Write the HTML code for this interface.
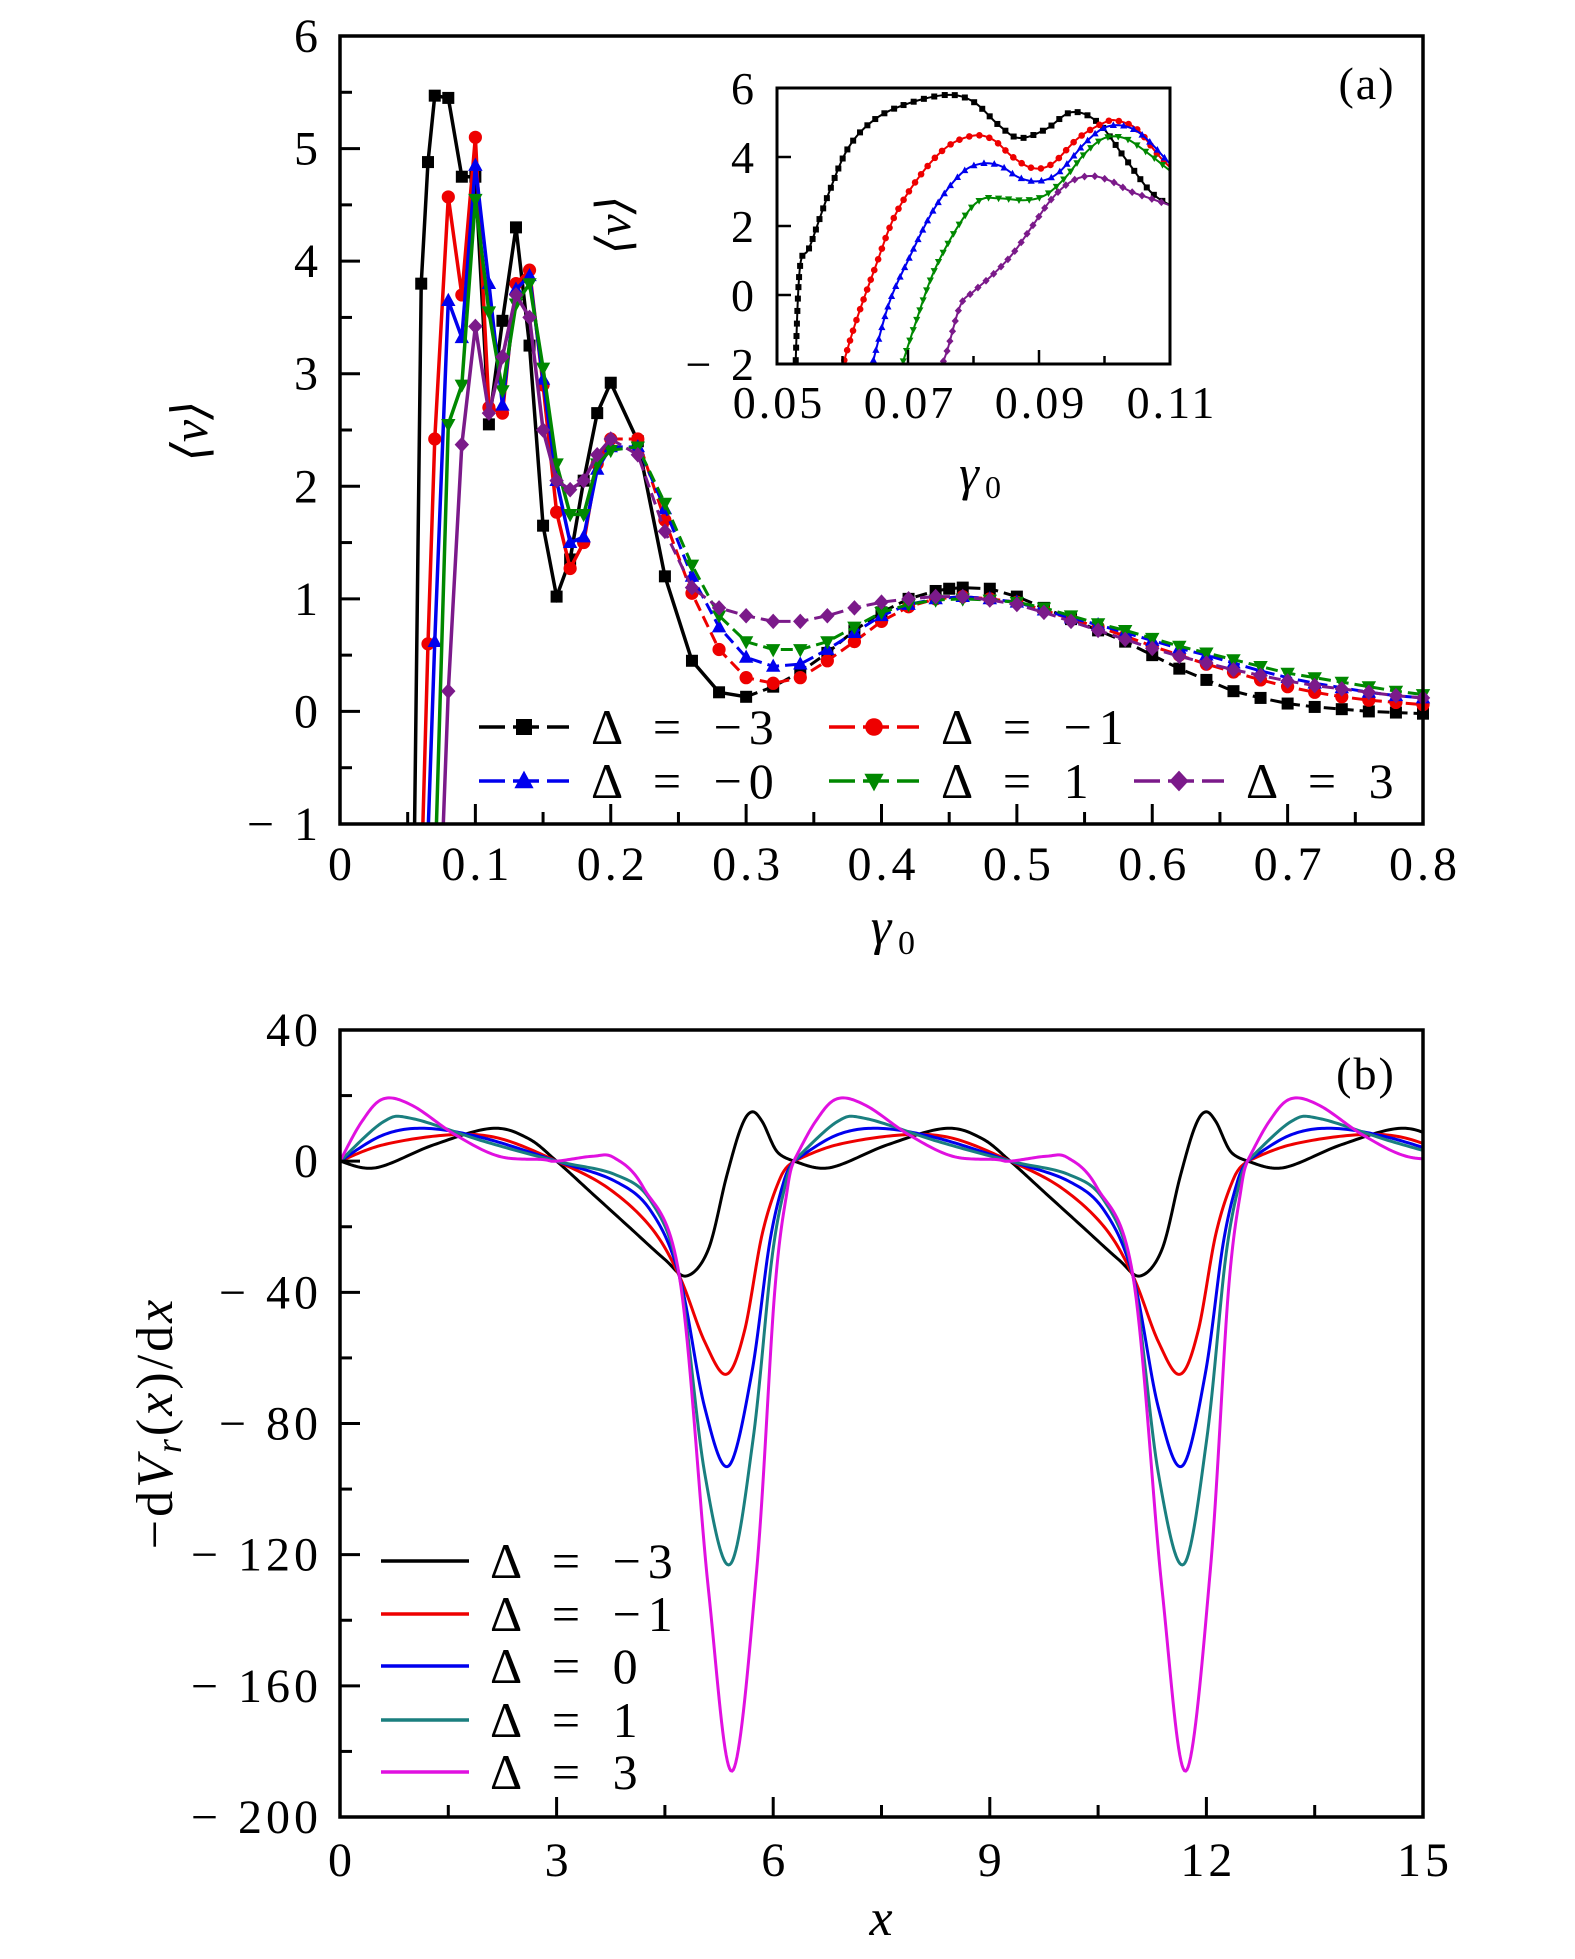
<!DOCTYPE html>
<html><head><meta charset="utf-8"><style>
html,body{margin:0;padding:0;background:#fff;}
svg{display:block;}
text{font-family:"Liberation Serif","DejaVu Serif",serif;fill:#000;}
</style></head><body>
<svg id="s" width="1575" height="1959" viewBox="0 0 1575 1959" xmlns="http://www.w3.org/2000/svg">
<rect width="1575" height="1959" fill="#fff"/>
<g id="g"></g>
</svg>
<script>
const NS="http://www.w3.org/2000/svg";
const G=document.getElementById('g');
function el(t,a,txt){const e=document.createElementNS(NS,t);for(const k in a)e.setAttribute(k,a[k]);if(txt!==undefined)e.textContent=txt;G.appendChild(e);return e;}
function txt(x,y,s,size,anchor,extra){const a={x:x,y:y,'font-size':size,'text-anchor':anchor||'middle'};if(extra)Object.assign(a,extra);return el('text',a,s);}
function clip(id,x,y,w,h){const c=el('clipPath',{id:id});const r=document.createElementNS(NS,'rect');r.setAttribute('x',x);r.setAttribute('y',y);r.setAttribute('width',w);r.setAttribute('height',h);c.appendChild(r);}
function cr(pts,n){const out=[];for(let i=0;i<pts.length-1;i++){const p0=pts[Math.max(0,i-1)],p1=pts[i],p2=pts[i+1],p3=pts[Math.min(pts.length-1,i+2)];for(let k=0;k<n;k++){const t=k/n,t2=t*t,t3=t2*t;const f=(a,b,c,d)=>0.5*((2*b)+(-a+c)*t+(2*a-5*b+4*c-d)*t2+(-a+3*b-3*c+d)*t3);out.push([f(p0[0],p1[0],p2[0],p3[0]),f(p0[1],p1[1],p2[1],p3[1])]);}}out.push(pts[pts.length-1]);return out;}
function marker(type,x,y,c,r){
 if(type==='sq')el('rect',{x:x-r,y:y-r,width:2*r,height:2*r,fill:c});
 else if(type==='ci')el('circle',{cx:x,cy:y,r:r*1.1,fill:c});
 else if(type==='up')el('polygon',{points:`${x},${y-r*1.3} ${x-r*1.2},${y+r*0.9} ${x+r*1.2},${y+r*0.9}`,fill:c});
 else if(type==='dn')el('polygon',{points:`${x},${y+r*1.3} ${x-r*1.2},${y-r*0.9} ${x+r*1.2},${y-r*0.9}`,fill:c});
 else if(type==='di')el('polygon',{points:`${x},${y-r*1.3} ${x+r*1.2},${y} ${x},${y+r*1.3} ${x-r*1.2},${y}`,fill:c});
}
const TK={'letter-spacing':4};
// ---------- Panel a ----------
const aL=340,aR=1423,aT=36,aB=824;
const ax=v=>aL+(v/0.8)*(aR-aL), ay=v=>aB-(v+1)/7*(aB-aT);
const A={
k:{c:'#000',m:'sq',sw:0.3,d:[[0.055,-1.1],[0.06,3.8],[0.065,4.88],[0.07,5.47],[0.08,5.45],[0.09,4.75],[0.1,4.75],[0.11,2.55],[0.12,3.47],[0.13,4.3],[0.14,3.25],[0.15,1.65],[0.16,1.02],[0.17,1.35],[0.18,2.05],[0.19,2.65],[0.2,2.92],[0.22,2.4],[0.24,1.2],[0.26,0.45],[0.28,0.17],[0.3,0.13],[0.32,0.22],[0.34,0.35],[0.36,0.52],[0.38,0.72],[0.4,0.88],[0.42,1.0],[0.44,1.07],[0.45,1.09],[0.46,1.1],[0.48,1.09],[0.5,1.02],[0.52,0.92],[0.54,0.82],[0.56,0.72],[0.58,0.62],[0.6,0.5],[0.62,0.38],[0.64,0.28],[0.66,0.18],[0.68,0.12],[0.7,0.07],[0.72,0.04],[0.74,0.02],[0.76,0.0],[0.78,-0.01],[0.8,-0.02]]},
r:{c:'#e00',m:'ci',sw:0.2,d:[[0.061,-1.1],[0.065,0.6],[0.07,2.42],[0.08,4.57],[0.09,3.7],[0.1,5.1],[0.11,2.7],[0.12,2.65],[0.13,3.8],[0.14,3.92],[0.15,2.9],[0.16,1.77],[0.17,1.27],[0.18,1.5],[0.19,2.2],[0.2,2.42],[0.22,2.42],[0.24,1.7],[0.26,1.05],[0.28,0.55],[0.3,0.3],[0.32,0.25],[0.34,0.3],[0.36,0.45],[0.38,0.62],[0.4,0.8],[0.42,0.93],[0.44,1.0],[0.46,1.02],[0.48,1.0],[0.5,0.97],[0.52,0.9],[0.54,0.82],[0.56,0.75],[0.58,0.67],[0.6,0.58],[0.62,0.5],[0.64,0.42],[0.66,0.35],[0.68,0.28],[0.7,0.22],[0.72,0.17],[0.74,0.13],[0.76,0.1],[0.78,0.08],[0.8,0.06]]},
b:{c:'#00e',m:'up',sw:0.2,d:[[0.065,-1.1],[0.07,0.62],[0.08,3.65],[0.09,3.32],[0.1,4.85],[0.11,3.8],[0.12,2.72],[0.13,3.75],[0.14,3.87],[0.15,2.95],[0.16,2.05],[0.17,1.5],[0.18,1.55],[0.19,2.15],[0.2,2.35],[0.22,2.35],[0.24,1.8],[0.26,1.2],[0.28,0.75],[0.3,0.48],[0.32,0.4],[0.34,0.42],[0.36,0.55],[0.38,0.7],[0.4,0.85],[0.42,0.95],[0.44,1.0],[0.46,1.02],[0.48,1.0],[0.5,0.97],[0.52,0.9],[0.54,0.83],[0.56,0.77],[0.58,0.7],[0.6,0.63],[0.62,0.56],[0.64,0.5],[0.66,0.43],[0.68,0.36],[0.7,0.3],[0.72,0.25],[0.74,0.21],[0.76,0.17],[0.78,0.14],[0.8,0.12]]},
g:{c:'#080',m:'dn',sw:0.2,d:[[0.071,-1.1],[0.08,2.55],[0.09,2.9],[0.1,4.55],[0.11,3.55],[0.12,2.85],[0.13,3.62],[0.14,3.8],[0.15,3.05],[0.16,2.2],[0.17,1.75],[0.18,1.75],[0.19,2.2],[0.2,2.32],[0.22,2.35],[0.24,1.85],[0.26,1.3],[0.28,0.85],[0.3,0.62],[0.32,0.55],[0.34,0.55],[0.36,0.62],[0.38,0.75],[0.4,0.88],[0.42,0.95],[0.44,0.99],[0.46,1.0],[0.48,0.99],[0.5,0.97],[0.52,0.92],[0.54,0.85],[0.56,0.78],[0.58,0.72],[0.6,0.65],[0.62,0.58],[0.64,0.52],[0.66,0.46],[0.68,0.4],[0.7,0.34],[0.72,0.3],[0.74,0.26],[0.76,0.22],[0.78,0.18],[0.8,0.15]]},
p:{c:'#7b1a8a',m:'di',sw:0.2,d:[[0.076,-1.1],[0.08,0.18],[0.09,2.37],[0.1,3.42],[0.11,2.65],[0.12,3.15],[0.13,3.7],[0.14,3.5],[0.15,2.5],[0.16,2.05],[0.17,1.97],[0.18,2.05],[0.19,2.28],[0.2,2.42],[0.22,2.28],[0.24,1.6],[0.26,1.1],[0.28,0.92],[0.3,0.85],[0.32,0.8],[0.34,0.8],[0.36,0.85],[0.38,0.92],[0.4,0.97],[0.42,1.0],[0.44,1.02],[0.46,1.02],[0.48,0.99],[0.5,0.95],[0.52,0.88],[0.54,0.8],[0.56,0.72],[0.58,0.64],[0.6,0.56],[0.62,0.49],[0.64,0.43],[0.66,0.37],[0.68,0.32],[0.7,0.27],[0.72,0.23],[0.74,0.2],[0.76,0.17],[0.78,0.14],[0.8,0.12]]}
};
clip('ca',aL,aT,aR-aL,aB-aT);
for(const key of ['k','r','b','g','p']){const s=A[key];
 const solid=s.d.filter(p=>p[0]<=s.sw), dash=s.d.filter(p=>p[0]>=s.sw);
 el('polyline',{points:solid.map(p=>ax(p[0])+','+ay(p[1])).join(' '),fill:'none',stroke:s.c,'stroke-width':3.5,'clip-path':'url(#ca)'});
 el('polyline',{points:dash.map(p=>ax(p[0])+','+ay(p[1])).join(' '),fill:'none',stroke:s.c,'stroke-width':3,'stroke-dasharray':'12,6','clip-path':'url(#ca)'});
 for(const p of s.d){if(p[1]>-1)marker(s.m,ax(p[0]),ay(p[1]),s.c,6);}
}
el('rect',{x:aL,y:aT,width:aR-aL,height:aB-aT,fill:'none',stroke:'#000','stroke-width':3.5});
for(let i=0;i<=16;i++){const v=i*0.05,x=ax(v);el('line',{x1:x,y1:aB,x2:x,y2:aB-(i%2?12:20),stroke:'#000','stroke-width':3});}
for(let i=0;i<=14;i++){const v=-1+i*0.5,y=ay(v);el('line',{x1:aL,y1:y,x2:aL+(i%2?12:20),y2:y,stroke:'#000','stroke-width':3});}
['0','0.1','0.2','0.3','0.4','0.5','0.6','0.7','0.8'].forEach((s,i)=>txt(ax(i*0.1)+2,880,s,48,'middle',TK));
for(let i=-1;i<=6;i++)txt(322,ay(i)+16,i<0?'− 1':String(i),48,'end',TK);
txt(881,944,'γ',52,'middle',{'font-style':'italic'});txt(898,954,'0',34,'start');
txt(0,0,'⟨v⟩',50,'middle',{transform:'translate(207,431) rotate(-90)','font-style':'italic'});
txt(1367,99,'(a)',46,'middle',{'letter-spacing':2});
// inset
const iL=777,iR=1170,iT=88,iB=364;
const ix=v=>iL+(v-0.05)/0.06*(iR-iL), iy=v=>iB-(v+2)/8*(iB-iT);
el('rect',{x:iL,y:iT,width:iR-iL,height:iB-iT,fill:'#fff',stroke:'none'});
clip('ci',iL,iT,iR-iL,iB-iT);
const I=[
{c:'#000',m:'sq',d:[[0.0528,-2.2],[0.0535,0.8],[0.055,1.4],[0.058,3.0],[0.061,4.3],[0.065,5.1],[0.07,5.55],[0.076,5.8],[0.08,5.6],[0.084,4.9],[0.087,4.55],[0.091,4.8],[0.095,5.3],[0.099,5.0],[0.103,4.0],[0.107,3.0],[0.11,2.6]]},
{c:'#e00',m:'ci',d:[[0.0598,-2.2],[0.062,-0.8],[0.065,0.8],[0.068,2.3],[0.072,3.5],[0.076,4.3],[0.08,4.62],[0.083,4.5],[0.086,4.0],[0.089,3.68],[0.092,3.8],[0.096,4.55],[0.1,5.0],[0.102,5.05],[0.105,4.8],[0.108,4.1],[0.11,3.7]]},
{c:'#00e',m:'up',d:[[0.0643,-2.2],[0.067,-0.3],[0.07,1.0],[0.074,2.5],[0.078,3.5],[0.081,3.8],[0.084,3.75],[0.087,3.4],[0.09,3.3],[0.093,3.55],[0.097,4.4],[0.1,4.85],[0.103,4.9],[0.106,4.6],[0.11,3.8]]},
{c:'#080',m:'dn',d:[[0.0688,-2.2],[0.071,-0.9],[0.074,0.7],[0.078,2.1],[0.081,2.75],[0.084,2.8],[0.088,2.75],[0.091,2.9],[0.094,3.4],[0.097,4.1],[0.1,4.55],[0.103,4.55],[0.106,4.2],[0.11,3.6]]},
{c:'#7b1a8a',m:'di',d:[[0.0748,-2.2],[0.076,-1.6],[0.078,-0.3],[0.08,0.1],[0.083,0.6],[0.086,1.2],[0.089,2.0],[0.092,2.8],[0.095,3.3],[0.098,3.45],[0.101,3.3],[0.104,3.0],[0.107,2.8],[0.11,2.6]]}
];
for(const s of I){const pts=cr(s.d,8).map(p=>[ix(p[0]),iy(p[1])]);
 el('polyline',{points:pts.map(p=>p.join(',')).join(' '),fill:'none',stroke:s.c,'stroke-width':2,'clip-path':'url(#ci)'});
 const dense=cr(s.d,40);let acc=0,last=null;
 for(const p of dense){const q=[ix(p[0]),iy(p[1])];if(last){acc+=Math.hypot(q[0]-last[0],q[1]-last[1]);}last=q;if(acc>=10||acc===0){if(q[1]<iB&&q[1]>iT&&q[0]<iR)marker(s.m,q[0],q[1],s.c,3);acc=acc>=10?0.0001:acc;}}
}
el('rect',{x:iL,y:iT,width:iR-iL,height:iB-iT,fill:'none',stroke:'#000','stroke-width':3});
for(let i=0;i<=6;i++){const x=ix(0.05+i*0.01);el('line',{x1:x,y1:iB,x2:x,y2:iB-(i%2?8:14),stroke:'#000','stroke-width':2.5});}
for(let i=0;i<=4;i++){const y=iy(-2+i*2);el('line',{x1:iL,y1:y,x2:iL+14,y2:y,stroke:'#000','stroke-width':2.5});}
['0.05','0.07','0.09','0.11'].forEach((s,i)=>txt(ix(0.05+i*0.02)+2,418,s,46,'middle',{'letter-spacing':3}));
['− 2','0','2','4','6'].forEach((s,i)=>txt(758,iy(-2+i*2)+16,s,46,'end',TK));
txt(969,490,'γ',50,'middle',{'font-style':'italic'});txt(985,498,'0',32,'start');
txt(0,0,'⟨v⟩',48,'middle',{transform:'translate(630,225) rotate(-90)','font-style':'italic'});
// legend a
const LA=[[479,727,'k','Δ = −3'],[829,727,'r','Δ = −1'],[479,781,'b','Δ = −0'],[829,781,'g','Δ = 1'],[1134,781,'p','Δ = 3']];
for(const [x,y,k,s] of LA){const c=A[k].c;el('line',{x1:x,y1:y,x2:x+90,y2:y,stroke:c,'stroke-width':3.5,'stroke-dasharray':'26,8'});marker(A[k].m,x+45,y,c,8);txt(x+112,y+17,s,50,'start',{'letter-spacing':7,'word-spacing':6});}
// ---------- Panel b ----------
const bL=340,bR=1423,bT=1030,bB=1817;
const bx=v=>bL+v/15*(bR-bL), by=v=>bT+(40-v)/240*(bB-bT);
const P=2*Math.PI;
const B=[
{c:'#000',d:[[0,0],[0.5,-2],[1.3,5],[2.1,10],[2.6,7],[3.0,0],[3.5,-10],[4.0,-20],[4.5,-30],[4.8,-35],[5.1,-27],[5.35,-5],[5.55,10],[5.7,15],[5.85,12],[6.05,3],[P,0]]},
{c:'#e00',d:[[0,0],[0.6,5],[1.5,8],[2.2,7],[3.0,0],[3.7,-8],[4.3,-20],[4.7,-35],[5.05,-55],[5.35,-65],[5.6,-52],[5.85,-22],[6.1,-5],[P,0]]},
{c:'#00e',d:[[0,0],[0.6,8],[1.2,10],[2.0,7],[3.0,0],[3.8,-6],[4.3,-15],[4.7,-35],[5.05,-75],[5.38,-93],[5.7,-65],[5.95,-25],[6.15,-6],[P,0]]},
{c:'#1a7f7f',d:[[0,0],[0.6,12],[1.0,13],[2.0,6],[3.0,0],[3.8,-4],[4.3,-12],[4.7,-35],[5.05,-95],[5.4,-123],[5.72,-85],[5.98,-30],[6.17,-7],[P,0]]},
{c:'#e010e0',d:[[0,0],[0.3,12],[0.6,19],[1.0,17],[1.6,8],[2.2,1.5],[2.8,0.5],[3.0,0],[3.5,1.5],[3.8,1],[4.2,-8],[4.7,-35],[5.1,-130],[5.43,-186],[5.77,-125],[6.02,-40],[6.2,-8],[P,0]]}
];
clip('cb',bL,bT,bR-bL,bB-bT);
for(const s of B){let pts=[];for(let k=0;k<3;k++){const d=s.d.map(p=>[p[0]+k*P,p[1]]);const c=cr(d,20);pts=pts.concat(k?c.slice(1):c);}
 pts=pts.filter(p=>p[0]<=15.2);
 el('polyline',{points:pts.map(p=>bx(p[0])+','+by(p[1])).join(' '),fill:'none',stroke:s.c,'stroke-width':3,'clip-path':'url(#cb)'});}
el('rect',{x:bL,y:bT,width:bR-bL,height:bB-bT,fill:'none',stroke:'#000','stroke-width':3.5});
for(let i=0;i<=10;i++){const x=bx(i*1.5);el('line',{x1:x,y1:bB,x2:x,y2:bB-(i%2?12:20),stroke:'#000','stroke-width':3});}
for(let i=0;i<=12;i++){const y=by(40-i*20);el('line',{x1:bL,y1:y,x2:bL+(i%2?12:20),y2:y,stroke:'#000','stroke-width':3});}
['0','3','6','9','12','15'].forEach((s,i)=>txt(bx(i*3)+2,1876,s,48,'middle',TK));
['40','0','− 40','− 80','− 120','− 160','− 200'].forEach((s,i)=>txt(322,by(40-i*40)+16,s,48,'end',TK));
txt(881,1935,'x',52,'middle',{'font-style':'italic'});
const yl=el('text',{transform:'translate(172,1423) rotate(-90)','font-size':52,'text-anchor':'middle','letter-spacing':3});
yl.innerHTML='<tspan>−d</tspan><tspan font-style="italic">V</tspan><tspan font-size="36" font-style="italic" dy="9">r</tspan><tspan dy="-9">(</tspan><tspan font-style="italic">x</tspan><tspan>)/d</tspan><tspan font-style="italic">x</tspan>';
txt(1366,1089,'(b)',46,'middle',{'letter-spacing':2});
const LB=['Δ = −3','Δ = −1','Δ = 0','Δ = 1','Δ = 3'];const LY=[1561,1614,1666,1720,1772];
LB.forEach((s,i)=>{el('line',{x1:381,y1:LY[i],x2:469,y2:LY[i],stroke:B[i].c,'stroke-width':3.5});txt(490,LY[i]+17,s,50,'start',{'letter-spacing':7,'word-spacing':6});});
</script>
</body></html>
